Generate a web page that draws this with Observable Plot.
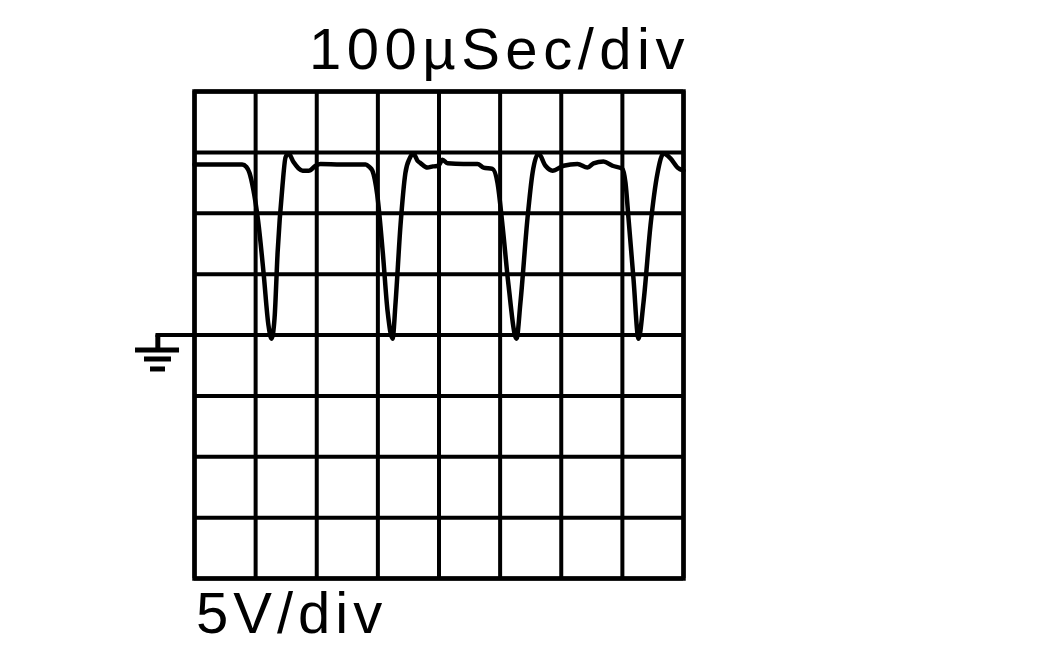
<!DOCTYPE html>
<html>
<head>
<meta charset="utf-8">
<script src="https://cdn.jsdelivr.net/npm/d3@7"></script>
<script src="https://cdn.jsdelivr.net/npm/@observablehq/plot@0.6"></script>
<style>
  html, body { margin: 0; padding: 0; background: #fff; }
  #wrap { position: relative; width: 1063px; height: 661px; overflow: hidden; }
  .lbl { position: absolute; font-family: "Liberation Sans", Arial, sans-serif; color: #000; line-height: 1; white-space: nowrap; }
  #title { left: 309px; top: 20px; font-size: 58px; letter-spacing: 5.5px; }
  #caption { left: 196px; top: 584px; font-size: 58px; letter-spacing: 5px; }
  #chart { position: absolute; left: 0; top: 0; }
</style>
</head>
<body>
<div id="wrap">
  <div id="chart"></div>
  <div class="lbl" id="title"></div>
  <div class="lbl" id="caption"></div>
</div>
<script>
// Labels
const titleText = "100µSec/div";
const captionText = "5V/div";

// Grid ticks (time in µs, voltage in V)
const xTicks = [0, 100, 200, 300, 400, 500, 600, 700, 800];
const yTicks = [-20, -15, -10, -5, 0, 5, 10, 15, 20];

// Trace samples
const timeUs = [0, 40, 78, 85, 90, 96, 104, 113, 121, 126, 131, 136, 144, 149, 154, 162, 170, 177, 187, 198, 206, 240, 280,
  286, 291, 299, 308, 316, 324, 329, 337, 345, 352, 358, 365, 370, 381, 390, 399, 405.7, 413.9, 440, 463, 472.8, 487.5,
  495.7, 503.9, 513.7, 526.8, 533.3, 544.8, 553, 562.8, 574.2, 585.7, 603.7, 626.6, 642.9, 652.8, 669.1, 683.8, 700.2,
  705.1, 710, 718.2, 726.4, 734.6, 746, 757.5, 767.3, 778.7, 790.2, 800];
const volts = [14.0, 14.0, 14.0, 13.8, 13.3, 12.0, 9.4, 5.1, 0.8, -0.3, 1.4, 6.8, 12.3, 14.6, 14.9, 14.2, 13.7, 13.5, 13.5, 13.9, 14.05, 14.0, 14.0,
  13.8, 13.5, 11.5, 6.8, 1.9, -0.3, 2.7, 9.0, 13.3, 14.5, 14.9, 14.3, 14.1, 13.75, 13.85, 13.9, 14.4, 14.1, 14.05, 14.05, 13.75, 13.65,
  12.5, 9.0, 4.1, -0.3, 2.7, 9.6, 13.3, 14.9, 13.9, 13.5, 13.9, 14.05, 13.75, 14.1, 14.25, 13.9, 13.65,
  12.5, 9.6, 4.6, -0.3, 2.7, 9.0, 13.3, 14.9, 14.5, 13.75, 13.5];

// Ground marker (left of the screen, at the 0 V line)
const groundBarsY = [0, -1.23, -1.97, -2.79];
const groundBarsX1 = [-63, -96.5, -81.8, -72];
const groundBarsX2 = [0, -24.5, -37.6, -47.4];
const groundStem = [{x: -60, y1: 0, y2: -1.2}];

const trace = timeUs.map((t, i) => ({t, v: volts[i]}));
const groundBars = groundBarsY.map((y, i) => ({y, x1: groundBarsX1[i], x2: groundBarsX2[i], w: i === 0 ? 4 : 5}));

document.getElementById("title").textContent = titleText;
document.getElementById("caption").textContent = captionText;

const chart = Plot.plot({
  width: 1063,
  height: 661,
  marginLeft: 194,
  marginRight: 380,
  marginTop: 91,
  marginBottom: 83,
  style: {background: "#fff"},
  x: {domain: [0, 800], axis: null},
  y: {domain: [-20, 20], axis: null},
  marks: [
    Plot.ruleX(xTicks, {stroke: "#000", strokeWidth: 4}),
    Plot.ruleY(yTicks, {stroke: "#000", strokeWidth: 4}),
    Plot.frame({stroke: "#000", strokeWidth: 4.5}),
    Plot.ruleY(groundBars, {y: "y", x1: "x1", x2: "x2", stroke: "#000", strokeWidth: "w"}),
    Plot.ruleX(groundStem, {x: "x", y1: "y1", y2: "y2", stroke: "#000", strokeWidth: 5}),
    Plot.line(trace, {x: "t", y: "v", stroke: "#000", strokeWidth: 4.5, curve: "monotone-x", strokeLinejoin: "round"})
  ]
});
document.getElementById("chart").appendChild(chart);
</script>
</body>
</html>
